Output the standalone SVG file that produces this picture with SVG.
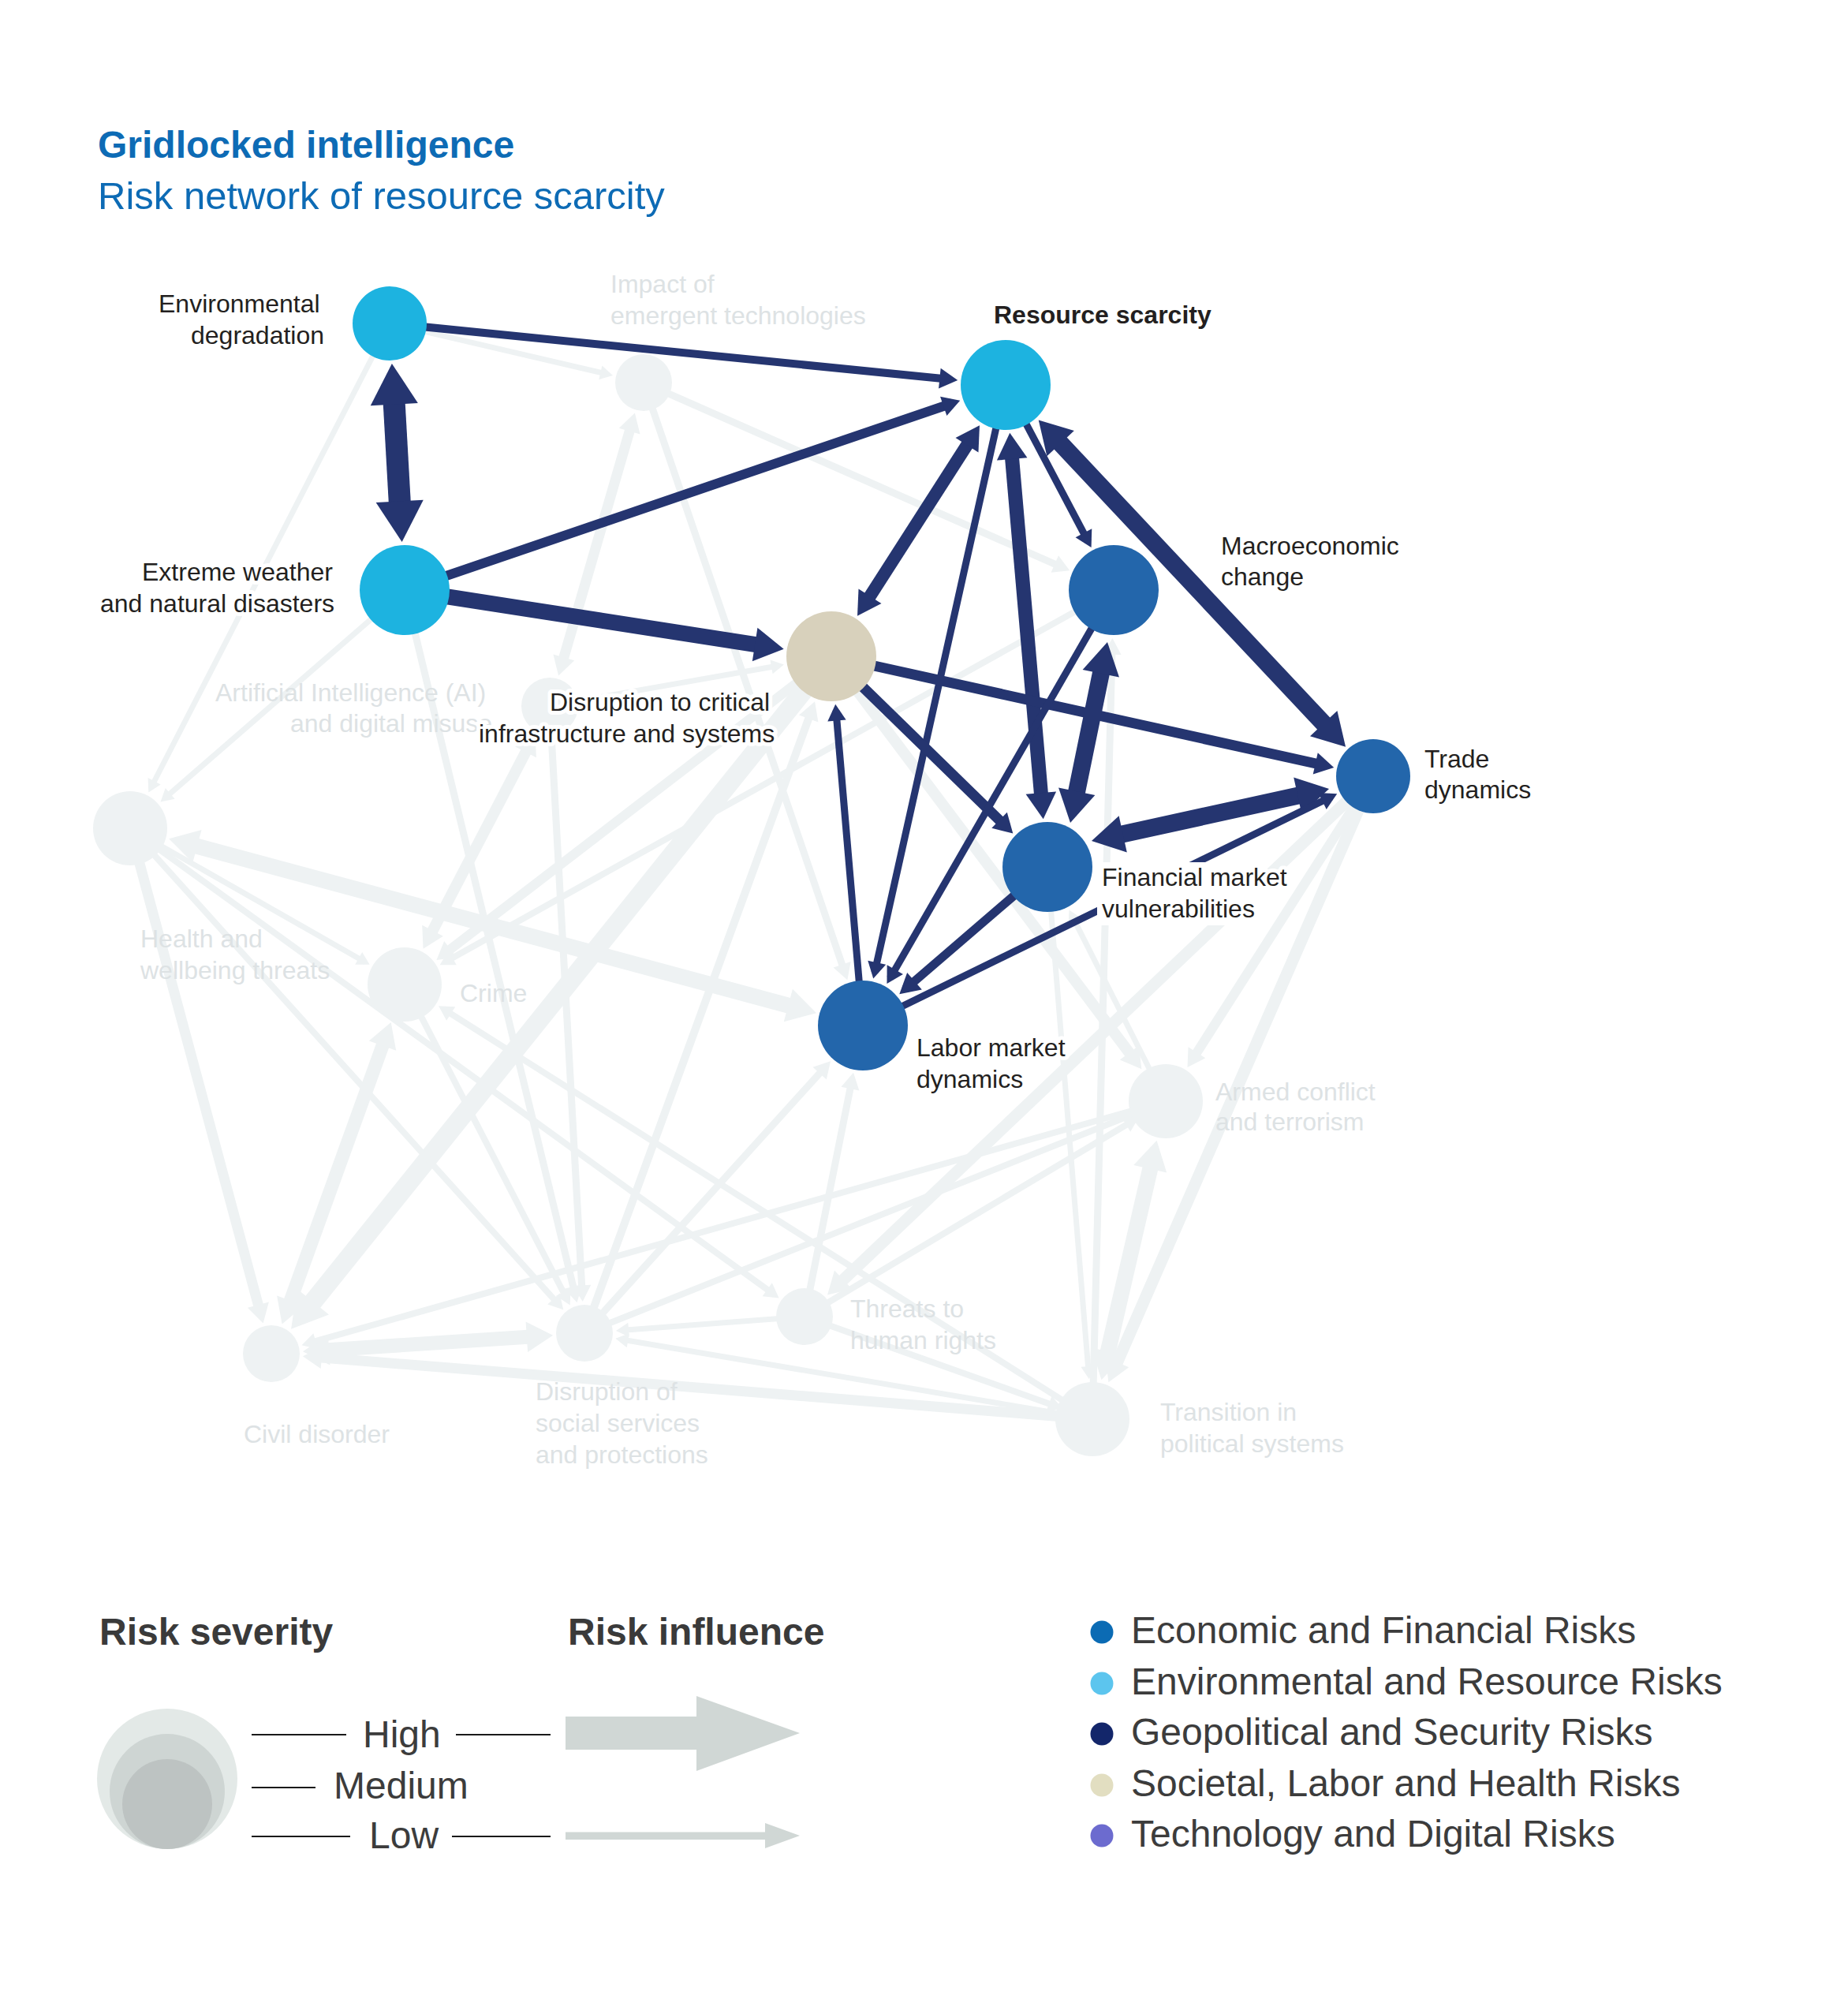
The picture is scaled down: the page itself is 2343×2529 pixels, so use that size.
<svg xmlns="http://www.w3.org/2000/svg" width="2343" height="2529" viewBox="0 0 2343 2529">
<defs>
<style>
text{font-family:"Liberation Sans",Arial,sans-serif}
.title{font-size:48px;font-weight:bold;fill:#0d6bb5}
.sub{font-size:49px;fill:#0d6bb5}
.lbl{font-size:32px;fill:#231f20;stroke:#ffffff;stroke-width:10px;paint-order:stroke;stroke-linejoin:round}
.lblb{font-size:32px;font-weight:bold;fill:#231f20;stroke:#ffffff;stroke-width:10px;paint-order:stroke;stroke-linejoin:round}
.lblf{font-size:32px;fill:#dde2e4}
.ed{stroke:#253570;fill:none}
.ef{stroke:#eef2f3;fill:none}
.nf{fill:#eef2f3}
.nenv{fill:#1db3e0}
.neco{fill:#2366ab}
.nsoc{fill:#d8d1bc}
.lh{font-size:48px;font-weight:bold;fill:#3a3a3a}
.lt{font-size:48px;fill:#3c3c3c}
.rule{stroke:#1a1a1a;stroke-width:2}
</style>
<marker id="dt" markerUnits="strokeWidth" markerWidth="2.3" markerHeight="2.6" refX="1.4" refY="1.3" orient="auto-start-reverse" overflow="visible"><path d="M0,0 L2.3,1.3 L0,2.6 Z" fill="#253570"/></marker>
<marker id="dk" markerUnits="strokeWidth" markerWidth="1.85" markerHeight="2.15" refX="0.95" refY="1.075" orient="auto-start-reverse" overflow="visible"><path d="M0,0 L1.85,1.075 L0,2.15 Z" fill="#253570"/></marker>
<marker id="ft" markerUnits="strokeWidth" markerWidth="2.3" markerHeight="2.6" refX="1.4" refY="1.3" orient="auto-start-reverse" overflow="visible"><path d="M0,0 L2.3,1.3 L0,2.6 Z" fill="#eef2f3"/></marker>
<marker id="fk" markerUnits="strokeWidth" markerWidth="1.85" markerHeight="2.15" refX="0.95" refY="1.075" orient="auto-start-reverse" overflow="visible"><path d="M0,0 L1.85,1.075 L0,2.15 Z" fill="#eef2f3"/></marker>
</defs>
<rect width="2343" height="2529" fill="#ffffff"/>

<g id="title">
<text class="title" x="124" y="200">Gridlocked intelligence</text>
<text class="sub" x="124" y="265">Risk network of resource scarcity</text>
</g>

<g id="connectors">
<g id="connectors-background">
<path class="ef" stroke-width="7" marker-end="url(#ft)" d="M494,410 L191.2,999.0"/>
<path class="ef" stroke-width="7" marker-end="url(#ft)" d="M494,410 L770.9,474.5"/>
<path class="ef" stroke-width="7" marker-end="url(#ft)" d="M513,748 L208.3,1012.4"/>
<path class="ef" stroke-width="9" marker-end="url(#ft)" d="M513,748 L729.7,1643.3"/>
<path class="ef" stroke-width="9" marker-end="url(#ft)" d="M816,485 L1348.8,720.1"/>
<path class="ef" stroke-width="9" marker-end="url(#ft)" d="M816,485 L1071.7,1234.6"/>
<path class="ef" stroke-width="13" marker-start="url(#fk)" marker-end="url(#fk)" d="M801.6,534.7 L711.4,845.3"/>
<path class="ef" stroke-width="7" marker-end="url(#ft)" d="M697,895 L987.7,843.7"/>
<path class="ef" stroke-width="9" marker-end="url(#ft)" d="M697,895 L738.3,1642.0"/>
<path class="ef" stroke-width="14" marker-start="url(#fk)" marker-end="url(#fk)" d="M672.7,941.6 L542.4,1191.6"/>
<path class="ef" stroke-width="12" marker-end="url(#fk)" d="M1054,832 L562.0,1210.3"/>
<path class="ef" stroke-width="8" marker-end="url(#ft)" d="M1412,748 L563.9,1219.7"/>
<path class="ef" stroke-width="24" marker-end="url(#fk)" d="M1054,832 L382.6,1668.0"/>
<path class="ef" stroke-width="14" marker-end="url(#fk)" d="M1054,832 L1439.8,1345.2"/>
<path class="ef" stroke-width="10" marker-end="url(#ft)" d="M741,1690 L1030.0,897.8"/>
<path class="ef" stroke-width="7" marker-end="url(#ft)" d="M165,1050 L463.2,1219.7"/>
<path class="ef" stroke-width="8" marker-end="url(#ft)" d="M165,1050 L709.4,1654.9"/>
<path class="ef" stroke-width="8" marker-end="url(#ft)" d="M165,1050 L981.8,1641.3"/>
<path class="ef" stroke-width="13" marker-end="url(#fk)" d="M165,1050 L330.6,1666.1"/>
<path class="ef" stroke-width="20" marker-start="url(#fk)" marker-end="url(#fk)" d="M231.6,1067.9 L1017.7,1279.5"/>
<path class="ef" stroke-width="17" marker-start="url(#fk)" marker-end="url(#fk)" d="M490.5,1310.4 L362.8,1664.0"/>
<path class="ef" stroke-width="8" marker-end="url(#ft)" d="M513,1248 L719.4,1648.0"/>
<path class="ef" stroke-width="8" marker-end="url(#ft)" d="M1385,1799 L562.2,1279.1"/>
<path class="ef" stroke-width="18" marker-start="url(#fk)" marker-end="url(#fk)" d="M400.1,1712.3 L684.9,1693.7"/>
<path class="ef" stroke-width="13" marker-end="url(#fk)" d="M1385,1799 L395.5,1720.1"/>
<path class="ef" stroke-width="8" marker-end="url(#ft)" d="M1478,1396 L389.4,1703.2"/>
<path class="ef" stroke-width="7" marker-end="url(#ft)" d="M1020,1669 L787.2,1686.5"/>
<path class="ef" stroke-width="7" marker-end="url(#ft)" d="M1385,1799 L786.6,1697.7"/>
<path class="ef" stroke-width="9" marker-end="url(#ft)" d="M741,1690 L1047.6,1351.2"/>
<path class="ef" stroke-width="8" marker-end="url(#ft)" d="M741,1690 L1434.2,1413.5"/>
<path class="ef" stroke-width="8" marker-end="url(#ft)" d="M1020,1669 L1437.5,1420.2"/>
<path class="ef" stroke-width="9" marker-end="url(#ft)" d="M1020,1669 L1080.4,1367.8"/>
<path class="ef" stroke-width="15" marker-end="url(#fk)" d="M1741,984 L1058.8,1632.1"/>
<path class="ef" stroke-width="15" marker-end="url(#fk)" d="M1741,984 L1410.8,1739.9"/>
<path class="ef" stroke-width="12" marker-end="url(#fk)" d="M1741,984 L1511.3,1343.9"/>
<path class="ef" stroke-width="7" marker-end="url(#ft)" d="M1328,1099 L1380.3,1741.9"/>
<path class="ef" stroke-width="9" marker-end="url(#ft)" d="M1385,1799 L1410.2,817.1"/>
<path class="ef" stroke-width="7" marker-end="url(#ft)" d="M1478,1396 L1358.3,1159.1"/>
<path class="ef" stroke-width="20" marker-start="url(#fk)" marker-end="url(#fk)" d="M1400.5,1731.8 L1462.5,1463.2"/>
<path class="ef" stroke-width="8" marker-end="url(#ft)" d="M1020,1669 L1340.5,1783.2"/>
</g>
<g id="connectors-resource-scarcity">
<path class="ed" stroke-width="10" marker-end="url(#dt)" d="M494,410 L1205.3,481.0"/>
<path class="ed" stroke-width="28" marker-start="url(#dk)" marker-end="url(#dk)" d="M498.3,486.1 L508.2,661.9"/>
<path class="ed" stroke-width="12" marker-end="url(#dk)" d="M513,748 L1207.0,511.2"/>
<path class="ed" stroke-width="20" marker-end="url(#dk)" d="M513,748 L975.9,819.9"/>
<path class="ed" stroke-width="16" marker-start="url(#dk)" marker-end="url(#dk)" d="M1234.2,551.4 L1094.8,768.6"/>
<path class="ed" stroke-width="9" marker-end="url(#dt)" d="M1275,488 L1109.0,1232.6"/>
<path class="ed" stroke-width="18" marker-start="url(#dk)" marker-end="url(#dk)" d="M1281.7,564.9 L1321.3,1022.1"/>
<path class="ed" stroke-width="9" marker-end="url(#dt)" d="M1275,488 L1379.8,686.9"/>
<path class="ed" stroke-width="22" marker-start="url(#dk)" marker-end="url(#dk)" d="M1330.3,546.9 L1692.5,932.4"/>
<path class="ed" stroke-width="13" marker-end="url(#dk)" d="M1054,832 L1679.8,970.5"/>
<path class="ed" stroke-width="13" marker-end="url(#dk)" d="M1054,832 L1275.9,1048.3"/>
<path class="ed" stroke-width="9" marker-end="url(#dt)" d="M1094,1300 L1059.9,900.9"/>
<path class="ed" stroke-width="9" marker-end="url(#dt)" d="M1412,748 L1128.5,1240.1"/>
<path class="ed" stroke-width="22" marker-start="url(#dk)" marker-end="url(#dk)" d="M1400.0,833.4 L1361.0,1023.6"/>
<path class="ed" stroke-width="22" marker-start="url(#dk)" marker-end="url(#dk)" d="M1665.7,1004.2 L1403.3,1061.8"/>
<path class="ed" stroke-width="9" marker-end="url(#dt)" d="M1094,1300 L1687.9,1009.9"/>
<path class="ed" stroke-width="11" marker-end="url(#dt)" d="M1328,1099 L1147.8,1253.8"/>
</g>
</g>

<g id="nodes">
<g id="node-impact-emergent-tech"><circle class="nf" cx="816" cy="485" r="36"/><text class="lblf" x="774" y="371">Impact of</text><text class="lblf" x="774" y="411">emergent technologies</text></g>
<g id="node-ai-misuse"><circle class="nf" cx="697" cy="895" r="36"/><text class="lblf" x="273" y="889">Artificial Intelligence (AI)</text><text class="lblf" x="368" y="928">and digital misuse</text></g>
<g id="node-health"><circle class="nf" cx="165" cy="1050" r="47"/><text class="lblf" x="178" y="1201">Health and</text><text class="lblf" x="178" y="1241">wellbeing threats</text></g>
<g id="node-crime"><circle class="nf" cx="513" cy="1248" r="47"/><text class="lblf" x="583" y="1270">Crime</text></g>
<g id="node-armed-conflict"><circle class="nf" cx="1478" cy="1396" r="47"/><text class="lblf" x="1541" y="1395">Armed conflict</text><text class="lblf" x="1541" y="1433">and terrorism</text></g>
<g id="node-human-rights"><circle class="nf" cx="1020" cy="1669" r="36"/><text class="lblf" x="1078" y="1670">Threats to</text><text class="lblf" x="1078" y="1710">human rights</text></g>
<g id="node-civil-disorder"><circle class="nf" cx="344" cy="1716" r="36"/><text class="lblf" x="309" y="1829">Civil disorder</text></g>
<g id="node-social-services"><circle class="nf" cx="741" cy="1690" r="36"/><text class="lblf" x="679" y="1775">Disruption of</text><text class="lblf" x="679" y="1815">social services</text><text class="lblf" x="679" y="1855">and protections</text></g>
<g id="node-political-systems"><circle class="nf" cx="1385" cy="1799" r="47"/><text class="lblf" x="1471" y="1801">Transition in</text><text class="lblf" x="1471" y="1841">political systems</text></g>

<g id="node-environmental-degradation"><circle class="nenv" cx="494" cy="410" r="47"/><text class="lbl" x="201" y="396">Environmental</text><text class="lbl" x="242" y="436">degradation</text></g>
<g id="node-extreme-weather"><circle class="nenv" cx="513" cy="748" r="57"/><text class="lbl" x="180" y="736">Extreme weather</text><text class="lbl" x="127" y="776">and natural disasters</text></g>
<g id="node-resource-scarcity"><circle class="nenv" cx="1275" cy="488" r="57"/><text class="lblb" x="1260" y="410">Resource scarcity</text></g>
<g id="node-macroeconomic"><circle class="neco" cx="1412" cy="748" r="57"/><text class="lbl" x="1548" y="703">Macroeconomic</text><text class="lbl" x="1548" y="742">change</text></g>
<g id="node-critical-infrastructure"><circle class="nsoc" cx="1054" cy="832" r="57"/><text class="lbl" x="697" y="901">Disruption to critical</text><text class="lbl" x="607" y="941">infrastructure and systems</text></g>
<g id="node-trade"><circle class="neco" cx="1741" cy="984" r="47"/><text class="lbl" x="1806" y="973">Trade</text><text class="lbl" x="1806" y="1012">dynamics</text></g>
<g id="node-financial-market"><circle class="neco" cx="1328" cy="1099" r="57"/><rect x="1391" y="1093" width="215" height="80" fill="#ffffff"/><text class="lbl" x="1397" y="1123">Financial market</text><text class="lbl" x="1397" y="1163">vulnerabilities</text></g>
<g id="node-labor-market"><circle class="neco" cx="1094" cy="1300" r="57"/><text class="lbl" x="1162" y="1339">Labor market</text><text class="lbl" x="1162" y="1379">dynamics</text></g>
</g>

<g id="legend-severity">
<text class="lh" x="126" y="2085">Risk severity</text>
<circle cx="212" cy="2255" r="89" fill="#e3e9e7"/>
<circle cx="212" cy="2271" r="73" fill="#ced5d3"/>
<circle cx="212" cy="2287" r="57" fill="#bdc3c2"/>
<line class="rule" x1="319" y1="2199" x2="439" y2="2199"/>
<text class="lt" x="460" y="2215">High</text>
<line class="rule" x1="578" y1="2199" x2="698" y2="2199"/>
<line class="rule" x1="319" y1="2266" x2="400" y2="2266"/>
<text class="lt" x="423" y="2280">Medium</text>
<line class="rule" x1="319" y1="2328" x2="444" y2="2328"/>
<text class="lt" x="468" y="2343">Low</text>
<line class="rule" x1="573" y1="2328" x2="698" y2="2328"/>
</g>
<g id="legend-influence">
<text class="lh" x="720" y="2085">Risk influence</text>
<path d="M717,2176 L883,2176 L883,2150 L1014,2197 L883,2245 L883,2218 L717,2218 Z" fill="#d0d7d5"/>
<path d="M717,2322.5 L970,2322.5 L970,2311 L1014,2327 L970,2343 L970,2332 L717,2332 Z" fill="#d0d7d5"/>
</g>
<g id="legend-categories">
<circle cx="1397" cy="2069" r="14.5" fill="#0b6bb4"/>
<text class="lt" x="1434" y="2083">Economic and Financial Risks</text>
<circle cx="1397" cy="2134" r="14.5" fill="#5cc5ee"/>
<text class="lt" x="1434" y="2148">Environmental and Resource Risks</text>
<circle cx="1397" cy="2198" r="14.5" fill="#13266a"/>
<text class="lt" x="1434" y="2212">Geopolitical and Security Risks</text>
<circle cx="1397" cy="2263" r="14.5" fill="#e2dec1"/>
<text class="lt" x="1434" y="2277">Societal, Labor and Health Risks</text>
<circle cx="1397" cy="2327" r="14.5" fill="#6c6bcf"/>
<text class="lt" x="1434" y="2341">Technology and Digital Risks</text>
</g>
</svg>
